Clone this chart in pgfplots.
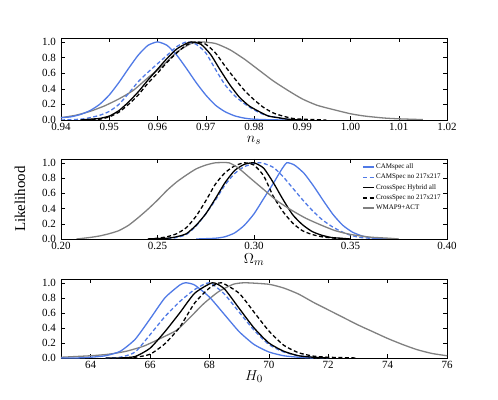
\documentclass[border=0pt]{standalone}
\usepackage{pgfplots}
\pgfplotsset{compat=1.18}
\usepackage{fontspec}
\setmainfont{Liberation Serif}
\definecolor{cblue}{RGB}{80,122,230}
\definecolor{cgray}{RGB}{128,128,128}
\pgfplotsset{
  mystyle/.style={
    scale only axis, width=386pt,
    ymin=0, ymax=1.05,
    ytick={0,0.2,0.4,0.6,0.8,1.0},
    yticklabel style={xshift=-1.5pt, /pgf/number format/.cd, fixed, fixed zerofill, precision=1},
    scaled x ticks=false, scaled y ticks=false,
    tick align=inside, major tick length=4pt,
    tick label style={font=\fontsize{11}{12}\selectfont},
    label style={font=\fontsize{15}{16}\selectfont},
    /pgf/number format/assume math mode=true,
    axis line style={line width=0.6pt},
    every tick/.style={black, line width=0.5pt},
    every axis plot/.append style={line width=1.3pt, smooth, tension=0.35},
  },
  bsol/.style={cblue, solid},
  bdash/.style={cblue, dash pattern=on 4pt off 2.5pt},
  ksol/.style={black, solid},
  kdash/.style={black, dash pattern=on 4pt off 2.5pt},
  gsol/.style={cgray, solid},
}
\begin{document}
\begin{tikzpicture}
\path[use as bounding box] (0,0) rectangle (498pt,399pt);

% ---------------- Panel 1: n_s ----------------
\begin{axis}[mystyle, at={(61pt,279pt)}, anchor=south west, height=82pt,
  xmin=0.94, xmax=1.02,
  xtick={0.94,0.95,0.96,0.97,0.98,0.99,1.00,1.01,1.02},
  xticklabel style={/pgf/number format/.cd, fixed, fixed zerofill, precision=2},
  xlabel={$n_s$},
  xlabel style={at={(axis description cs:0.5,-0.25)}, anchor=center},
]
\addplot[gsol] coordinates {(0.940,0.03)(0.943,0.06)(0.946,0.11)(0.949,0.18)(0.952,0.27)(0.955,0.38)(0.958,0.54)(0.961,0.69)(0.964,0.87)(0.967,0.98)(0.969,1.00)(0.972,0.98)(0.975,0.90)(0.978,0.78)(0.981,0.64)(0.984,0.50)(0.987,0.38)(0.990,0.27)(0.993,0.19)(0.996,0.14)(1.000,0.08)(1.003,0.05)(1.007,0.025)(1.010,0.015)(1.015,0.005)};
\addplot[bsol] coordinates {(0.940,0.03)(0.942,0.04)(0.944,0.07)(0.946,0.12)(0.948,0.20)(0.950,0.32)(0.952,0.48)(0.954,0.66)(0.956,0.83)(0.958,0.955)(0.960,1.00)(0.962,0.955)(0.964,0.83)(0.966,0.66)(0.968,0.48)(0.970,0.32)(0.972,0.19)(0.974,0.106)(0.976,0.053)(0.978,0.024)(0.980,0.01)(0.984,0.002)(0.988,0.0)};
\addplot[bdash] coordinates {(0.940,0.0)(0.944,0.01)(0.946,0.03)(0.948,0.06)(0.950,0.11)(0.952,0.20)(0.954,0.34)(0.956,0.49)(0.958,0.61)(0.960,0.72)(0.962,0.83)(0.964,0.94)(0.966,1.00)(0.968,0.97)(0.970,0.86)(0.972,0.65)(0.974,0.45)(0.976,0.31)(0.978,0.21)(0.980,0.13)(0.982,0.07)(0.984,0.04)(0.986,0.015)(0.988,0.005)(0.990,0.0)};
\addplot[ksol] coordinates {(0.944,0.0)(0.946,0.01)(0.948,0.02)(0.950,0.05)(0.952,0.12)(0.954,0.23)(0.956,0.36)(0.958,0.51)(0.960,0.65)(0.962,0.79)(0.964,0.91)(0.966,0.98)(0.967,1.00)(0.969,0.97)(0.971,0.84)(0.973,0.64)(0.975,0.45)(0.977,0.29)(0.979,0.18)(0.981,0.11)(0.983,0.05)(0.985,0.03)(0.987,0.01)(0.990,0.0)};
\addplot[kdash] coordinates {(0.945,0.0)(0.948,0.01)(0.950,0.04)(0.952,0.10)(0.954,0.20)(0.956,0.32)(0.958,0.47)(0.960,0.60)(0.962,0.74)(0.964,0.86)(0.966,0.96)(0.968,1.00)(0.970,0.97)(0.972,0.86)(0.974,0.69)(0.976,0.53)(0.978,0.38)(0.980,0.26)(0.982,0.16)(0.984,0.09)(0.986,0.05)(0.988,0.02)(0.990,0.01)(0.995,0.0)};
\end{axis}

% ---------------- Panel 2: Omega_m ----------------
\begin{axis}[mystyle, at={(61pt,160pt)}, anchor=south west, height=80pt,
  xmin=0.20, xmax=0.40,
  xtick={0.20,0.25,0.30,0.35,0.40},
  xticklabel style={/pgf/number format/.cd, fixed, fixed zerofill, precision=2},
  xlabel={$\Omega_m$},
  xlabel style={at={(axis description cs:0.5,-0.26)}, anchor=center},
  ylabel={Likelihood},
  ylabel style={at={(axis description cs:-0.106,0.5)}, anchor=center},
  legend style={at={(0.78,0.955)}, anchor=north west, draw=none, fill=none,
    font=\fontsize{7}{7.5}\selectfont, row sep=1.6pt, inner sep=0pt,
    nodes={inner sep=1.2pt}},
  legend cell align=left,
  legend image code/.code={\draw[#1, line width=1.6pt] (0pt,0pt) -- (11pt,0pt);},
]
\addplot[bsol] coordinates {(0.270,0.0)(0.280,0.01)(0.285,0.03)(0.290,0.08)(0.295,0.18)(0.300,0.33)(0.305,0.53)(0.310,0.73)(0.314,0.90)(0.317,1.00)(0.321,0.97)(0.326,0.86)(0.331,0.69)(0.336,0.50)(0.341,0.32)(0.346,0.18)(0.351,0.09)(0.356,0.04)(0.361,0.015)(0.370,0.0)};
\addlegendentry{CAMspec all}
\addplot[bdash] coordinates {(0.255,0.0)(0.260,0.02)(0.265,0.06)(0.270,0.17)(0.275,0.33)(0.280,0.51)(0.285,0.71)(0.290,0.86)(0.295,0.95)(0.300,0.99)(0.304,1.00)(0.310,0.94)(0.315,0.82)(0.320,0.67)(0.325,0.52)(0.330,0.38)(0.335,0.26)(0.340,0.17)(0.345,0.10)(0.350,0.05)(0.355,0.02)(0.360,0.01)(0.365,0.0)};
\addlegendentry{CAMSpec no 217x217}
\addplot[ksol] coordinates {(0.245,0.0)(0.255,0.01)(0.260,0.03)(0.265,0.07)(0.270,0.18)(0.275,0.33)(0.280,0.53)(0.285,0.74)(0.290,0.90)(0.295,0.98)(0.300,1.00)(0.305,0.93)(0.310,0.74)(0.315,0.52)(0.320,0.32)(0.325,0.19)(0.330,0.10)(0.335,0.05)(0.340,0.02)(0.345,0.01)(0.350,0.0)};
\addlegendentry{CrossSpec Hybrid all}
\addplot[kdash] coordinates {(0.245,0.0)(0.250,0.01)(0.255,0.03)(0.260,0.07)(0.265,0.15)(0.270,0.30)(0.275,0.50)(0.280,0.72)(0.285,0.87)(0.290,0.96)(0.295,1.00)(0.300,0.97)(0.305,0.83)(0.310,0.56)(0.315,0.36)(0.320,0.21)(0.325,0.11)(0.330,0.06)(0.335,0.03)(0.340,0.015)(0.345,0.005)(0.350,0.0)};
\addlegendentry{CrossSpec no 217x217}
\addplot[gsol] coordinates {(0.208,0.0)(0.215,0.02)(0.220,0.04)(0.225,0.07)(0.230,0.11)(0.235,0.18)(0.240,0.28)(0.245,0.39)(0.250,0.51)(0.255,0.64)(0.260,0.75)(0.265,0.84)(0.270,0.92)(0.275,0.97)(0.280,1.00)(0.287,1.00)(0.292,0.93)(0.298,0.80)(0.305,0.65)(0.312,0.50)(0.320,0.37)(0.327,0.27)(0.335,0.18)(0.342,0.11)(0.350,0.06)(0.360,0.025)(0.370,0.01)(0.375,0.0)};
\addlegendentry{WMAP9+ACT}
\end{axis}

% ---------------- Panel 3: H_0 ----------------
\begin{axis}[mystyle, at={(61pt,41pt)}, anchor=south west, height=79pt,
  xmin=63, xmax=76,
  xtick={64,66,68,70,72,74,76},
  xlabel={$H_0$},
  xlabel style={at={(axis description cs:0.5,-0.24)}, anchor=center},
]
\addplot[gsol] coordinates {(63.0,0.01)(64.0,0.03)(64.6,0.05)(65.2,0.09)(65.8,0.16)(66.4,0.27)(66.9,0.37)(67.3,0.52)(67.8,0.72)(68.3,0.88)(68.8,0.98)(69.2,1.00)(70.0,0.98)(70.5,0.93)(71.0,0.85)(71.5,0.74)(72.0,0.64)(72.5,0.54)(73.0,0.44)(73.5,0.35)(74.0,0.26)(74.5,0.18)(75.0,0.11)(75.5,0.06)(76.0,0.03)};
\addplot[bsol] coordinates {(63.0,0.0)(63.5,0.0)(64.0,0.01)(64.5,0.03)(65.0,0.09)(65.5,0.25)(66.0,0.52)(66.5,0.80)(67.0,0.97)(67.2,1.00)(67.5,0.97)(68.0,0.81)(68.5,0.58)(69.0,0.35)(69.5,0.18)(70.0,0.08)(70.5,0.03)(71.0,0.01)(71.5,0.0)};
\addplot[bdash] coordinates {(64.5,0.0)(65.0,0.01)(65.5,0.08)(66.0,0.31)(66.5,0.55)(67.0,0.75)(67.5,0.91)(68.0,1.00)(68.5,0.85)(69.0,0.61)(69.5,0.37)(70.0,0.18)(70.5,0.08)(71.0,0.03)(71.5,0.01)(72.0,0.0)};
\addplot[ksol] coordinates {(64.5,0.0)(65.0,0.0)(65.5,0.02)(66.0,0.13)(66.5,0.35)(67.0,0.60)(67.5,0.86)(68.1,1.00)(68.5,0.92)(69.0,0.66)(69.5,0.40)(70.0,0.20)(70.5,0.09)(71.0,0.03)(71.5,0.01)(72.0,0.0)};
\addplot[kdash] coordinates {(65.0,0.0)(65.5,0.01)(66.0,0.05)(66.5,0.19)(67.0,0.41)(67.5,0.73)(68.0,0.93)(68.4,1.00)(69.0,0.86)(69.5,0.61)(70.0,0.36)(70.5,0.17)(71.0,0.07)(71.5,0.025)(72.0,0.01)(73.0,0.0)};
\end{axis}
\end{tikzpicture}
\end{document}
